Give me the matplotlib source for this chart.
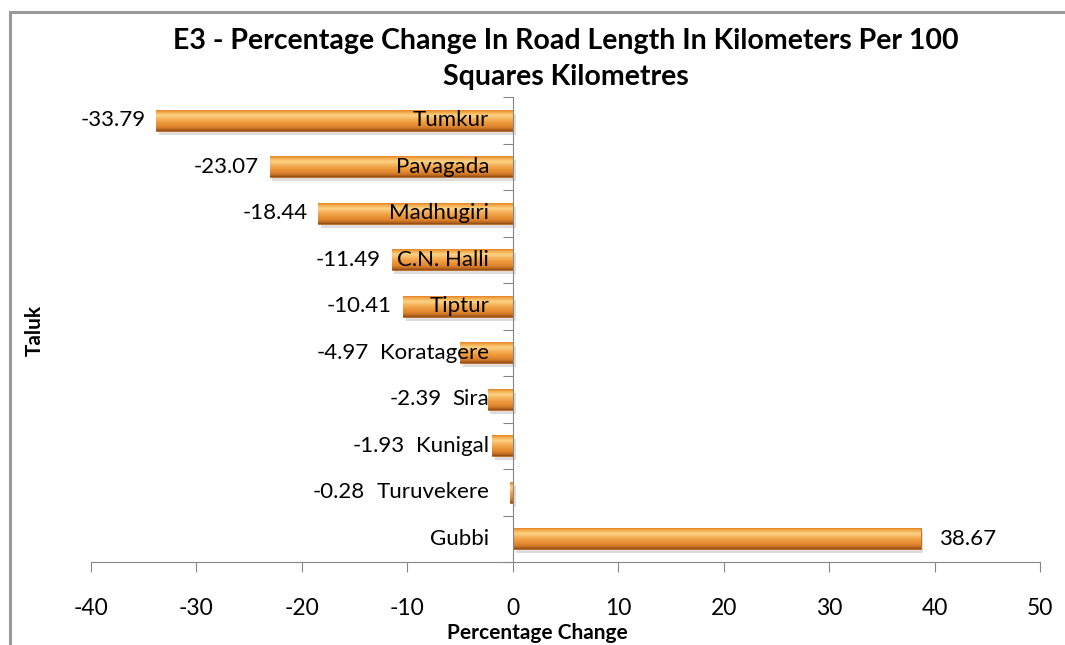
import numpy as np
import matplotlib
matplotlib.use("Agg")
import matplotlib.pyplot as plt
from matplotlib.colors import LinearSegmentedColormap
from matplotlib.patches import Rectangle
import matplotlib.patheffects as pe

plt.rcParams['font.family'] = ['Lato', 'DejaVu Sans']

# data, top to bottom as in the chart
taluks = ['Tumkur', 'Pavagada', 'Madhugiri', 'C.N. Halli', 'Tiptur',
          'Koratagere', 'Sira', 'Kunigal', 'Turuvekere', 'Gubbi']
changes = [-33.79, -23.07, -18.44, -11.49, -10.41, -4.97, -2.39, -1.93, -0.28, 38.67]
x_ticks = [-40, -30, -20, -10, 0, 10, 20, 30, 40, 50]

title = 'E3 - Percentage Change In Road Length In Kilometers Per 100\nSquares Kilometres'

# bar shading, top -> bottom
bar_cmap = LinearSegmentedColormap.from_list('bevel', [
    (0.00, '#E2832A'), (0.10, '#F4AA4A'), (0.25, '#FCD487'),
    (0.42, '#F6B35C'), (0.62, '#EE983A'), (0.82, '#DC822E'),
    (0.93, '#B9661F'), (1.00, '#8E4C18')])
grad = np.linspace(0, 1, 64).reshape(-1, 1)

W, H = 1065, 645
fig = plt.figure(figsize=(W / 100, H / 100), dpi=100)
ax = fig.add_axes([91 / W, 1 - 562 / H, (1040 - 91) / W, (562 - 97) / H])

ypos = np.arange(len(taluks))[::-1]
bars = ax.barh(ypos, changes, height=0.45, color='#EE983A', edgecolor='#B8661F',
               linewidth=0.6, zorder=2,
               path_effects=[pe.SimplePatchShadow(offset=(2, -3), shadow_rgbFace='#888888', alpha=0.28),
                             pe.Normal()])

for b in bars:
    x0, w = b.get_x(), b.get_width()
    y0, h = b.get_y(), b.get_height()
    im = ax.imshow(grad, cmap=bar_cmap, aspect='auto', interpolation='bilinear',
                   extent=(min(x0, x0 + w), max(x0, x0 + w), y0, y0 + h), zorder=3)
    im.set_clip_path(b)

ax.set_xlim(-40, 50)
ax.set_ylim(-0.5, len(taluks) - 0.5)

for side in ['top', 'right']:
    ax.spines[side].set_visible(False)
ax.spines['left'].set_position(('data', 0))
ax.spines['left'].set_color('#868686')
ax.spines['bottom'].set_color('#868686')
ax.spines['left'].set_zorder(4)

ax.set_xticks(x_ticks)
ax.set_xticklabels([str(t) for t in x_ticks], fontsize=16.5)
ax.set_yticks(np.arange(len(taluks) + 1) - 0.5)
ax.set_yticklabels([])
ax.tick_params(axis='x', direction='out', length=7, color='#868686', pad=19)
ax.tick_params(axis='y', direction='out', length=7, color='#868686')

# category names next to the zero axis
cat_texts = []
for y, name in zip(ypos, taluks):
    t = ax.annotate(name, xy=(0, y), xytext=(-17, 0), textcoords='offset points',
                    ha='right', va='center', fontsize=16, zorder=5)
    cat_texts.append(t)

fig.canvas.draw()
renderer = fig.canvas.get_renderer()
inv = ax.transData.inverted()
gap = 11  # px

for y, v, t in zip(ypos, changes, cat_texts):
    if v < 0:
        bar_px = ax.transData.transform((v, y))[0]
        label_px = t.get_window_extent(renderer).x0
        right_px = min(bar_px, label_px) - gap
        xr = inv.transform((right_px, 0))[0]
        ax.text(xr, y, f'{v:.2f}', ha='right', va='center', fontsize=16, zorder=5)
    else:
        ax.annotate(f'{v:.2f}', xy=(v, y), xytext=(13, 0), textcoords='offset points',
                    ha='left', va='center', fontsize=16, zorder=5)

fig.text(566 / W, 1 - 28 / H, title, ha='center', va='top', fontsize=20.5,
         fontweight='bold', linespacing=1.5)
fig.text(35 / W, 1 - 330 / H, 'Taluk', rotation=90, ha='center', va='center',
         fontsize=15, fontweight='bold')
fig.text(537 / W, 1 - 633 / H, 'Percentage Change', ha='center', va='center',
         fontsize=15, fontweight='bold')

# chart frame (right and bottom run off the image)
fig.patches.append(Rectangle((10 / W, -0.1), 1.2, 1.1 - 12 / H, transform=fig.transFigure,
                             fill=False, edgecolor='#999999', linewidth=2.2))

fig.savefig('out.png', dpi=100)
